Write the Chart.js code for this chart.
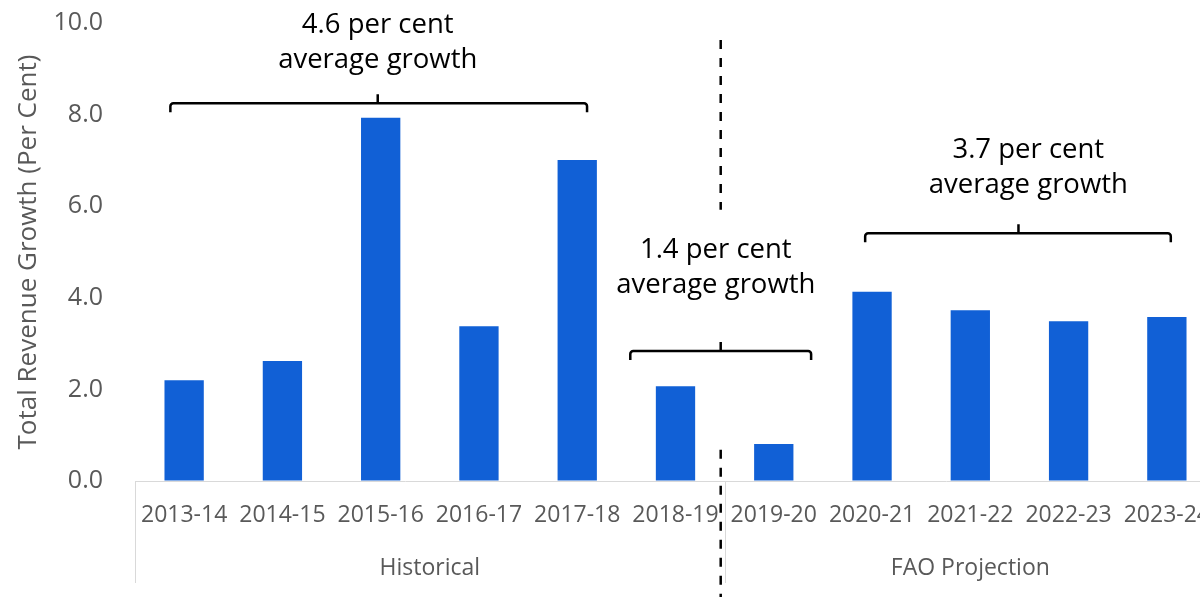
<!DOCTYPE html>
<html>
<head>
<meta charset="utf-8">
<script src="https://cdn.jsdelivr.net/npm/chart.js@4"></script>
<style>
  html, body { margin: 0; padding: 0; overflow: hidden; background: #fff; }
  canvas { display: block; }
</style>
</head>
<body>
<canvas id="revenueChart" width="1232" height="597"></canvas>
<script>
// data
const years = ["2013-14", "2014-15", "2015-16", "2016-17", "2017-18", "2018-19",
  "2019-20", "2020-21", "2021-22", "2022-23", "2023-24"];
const growth = [2.2, 2.62, 7.93, 3.38, 7.01, 2.07, 0.81, 4.13, 3.73, 3.49, 3.58];
const yTicks = [0, 2, 4, 6, 8, 10];

// groups under the year labels: [label, first index, last index]
const groups = [
  ["Historical", 0, 5],
  ["FAO Projection", 6, 10]
];

// brackets: [from, to, middle, level] in axis values
const brackets = [
  [-0.14, 4.10, 1.97, 8.25],
  [4.54, 6.38, 5.46, 2.84],
  [6.93, 10.04, 8.49, 5.41]
];
// bracket notes: [first line, second line, x, y of first line]
const notes = [
  ["4.6 per cent", "average growth", 1.97, 9.78],
  ["1.4 per cent", "average growth", 5.41, 4.87],
  ["3.7 per cent", "average growth", 8.59, 7.05]
];
// dashed divider between history and projection
const dividerX = 5.46;
const dividerParts = [[9.63, 5.92], [0.68, -2.7]];

const FONT = "'Open Sans', 'Noto Sans', sans-serif";

const annotationPlugin = {
  id: "annotations",
  afterDraw(chart) {
    const ctx = chart.ctx;
    const x = chart.scales.x;
    const y = chart.scales.y;
    const area = chart.chartArea;
    ctx.save();

    // group labels and separators
    ctx.strokeStyle = "#d9d9d9";
    ctx.lineWidth = 1;
    ctx.fillStyle = "#595959";
    ctx.font = "23px " + FONT;
    ctx.textAlign = "center";
    ctx.textBaseline = "middle";
    groups.forEach((g) => {
      const left = x.getPixelForValue(g[1] - 0.5);
      const right = x.getPixelForValue(g[2] + 0.5);
      ctx.beginPath();
      ctx.moveTo(Math.round(left) + 0.5, area.bottom);
      ctx.lineTo(Math.round(left) + 0.5, area.bottom + 102);
      ctx.stroke();
      ctx.fillText(g[0], (left + right) / 2, area.bottom + 87);
    });

    // dashed divider
    ctx.strokeStyle = "#000";
    ctx.lineWidth = 2.5;
    ctx.setLineDash([9, 9]);
    const dx = x.getPixelForValue(dividerX);
    dividerParts.forEach((p) => {
      ctx.beginPath();
      ctx.moveTo(dx, y.getPixelForValue(p[0]));
      ctx.lineTo(dx, y.getPixelForValue(p[1]));
      ctx.stroke();
    });
    ctx.setLineDash([]);

    // brackets
    ctx.lineWidth = 2.5;
    ctx.lineJoin = "round";
    brackets.forEach((b) => {
      const x0 = x.getPixelForValue(b[0]);
      const x1 = x.getPixelForValue(b[1]);
      const xm = x.getPixelForValue(b[2]);
      const yy = y.getPixelForValue(b[3]);
      ctx.beginPath();
      ctx.moveTo(x0, yy + 9);
      ctx.arcTo(x0, yy, x0 + 4, yy, 3);
      ctx.lineTo(x1 - 4, yy);
      ctx.arcTo(x1, yy, x1, yy + 9, 3);
      ctx.lineTo(x1, yy + 9);
      ctx.moveTo(xm, yy);
      ctx.lineTo(xm, yy - 9);
      ctx.stroke();
    });

    // notes
    ctx.fillStyle = "#000";
    ctx.font = "27.5px " + FONT;
    ctx.textBaseline = "alphabetic";
    notes.forEach((n) => {
      const nx = x.getPixelForValue(n[2]);
      const ny = y.getPixelForValue(n[3]);
      ctx.fillText(n[0], nx, ny);
      ctx.fillText(n[1], nx, ny + 35);
    });

    ctx.restore();
  }
};

const ctx = document.getElementById("revenueChart").getContext("2d");
new Chart(ctx, {
  type: "bar",
  data: {
    labels: years,
    datasets: [
      {
        label: "Total Revenue Growth",
        data: growth,
        backgroundColor: "#1160d6",
        categoryPercentage: 1,
        barPercentage: 0.4,
      },
    ],
  },
  options: {
    responsive: false,
    animation: false,
    layout: {
      autoPadding: false,
      padding: { top: 0, left: 0, right: 16, bottom: 0 },
    },
    plugins: {
      legend: { display: false },
      tooltip: { enabled: false },
    },
    scales: {
      x: {
        grid: { display: false, drawTicks: false },
        border: { display: true, color: "#d9d9d9", width: 1 },
        ticks: {
          color: "#595959",
          font: { family: FONT, size: 23 },
          padding: 21,
          maxRotation: 0,
          autoSkip: false,
        },
        afterFit(scale) {
          scale.height = 116;
        },
      },
      y: {
        min: 0,
        max: 10,
        afterBuildTicks(scale) {
          scale.ticks = yTicks.map((v) => ({ value: v }));
        },
        // invisible tick marks push the labels left without adding top padding
        grid: {
          display: true,
          drawOnChartArea: false,
          drawTicks: true,
          tickLength: 24,
          color: "rgba(0,0,0,0)",
        },
        border: { display: false },
        ticks: {
          color: "#595959",
          font: { family: FONT, size: 25 },
          padding: 8,
          callback: (v) => Number(v).toFixed(1),
        },
        title: {
          display: true,
          text: "Total Revenue Growth (Per Cent)",
          color: "#595959",
          font: { family: FONT, size: 26 },
          padding: { top: 13, bottom: 0 },
        },
        afterFit(scale) {
          scale.width = 135;
        },
      },
    },
  },
  plugins: [annotationPlugin],
});
</script>
</body>
</html>
